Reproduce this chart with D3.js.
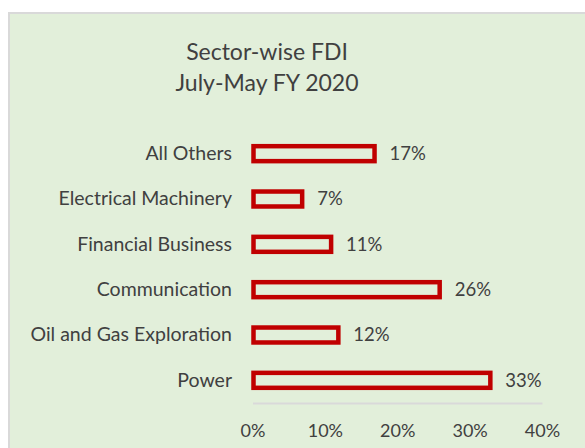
<!DOCTYPE html>
<meta charset="utf-8">
<script src="https://cdn.jsdelivr.net/npm/d3@7"></script>
<style>
body { margin: 0; background: #fff; }
text { fill: #404040; font-family: Lato, sans-serif; }
</style>
<body>
<script>

// chart data, top to bottom as drawn
var sectors = ["All Others", "Electrical Machinery", "Financial Business",
               "Communication", "Oil and Gas Exploration", "Power"];
var shares = [17, 7, 11, 26, 12, 33];
var ticks = [0, 10, 20, 30, 40];
var titleLines = ["Sector-wise FDI", "July-May FY 2020"];

var width = 585, height = 448;
var fontSize = "18px";

var svg = d3.select("body").append("svg")
    .attr("width", width)
    .attr("height", height);

// chart panel
svg.append("rect")
    .attr("x", 9).attr("y", 13)
    .attr("width", width).attr("height", height)
    .attr("fill", "#e2efda")
    .attr("stroke", "#d9d9d9")
    .attr("stroke-width", 2);

svg.append("text")
    .attr("x", 267)
    .attr("text-anchor", "middle")
    .style("font-size", "23px")
    .selectAll("tspan")
    .data(titleLines)
    .enter().append("tspan")
    .attr("x", 267)
    .attr("y", function(d, i) { return 60 + i * 31; })
    .text(function(d) { return d; });

var x = d3.scaleLinear()
    .domain([0, 40])
    .range([252.5, 542]);

var y = d3.scaleBand()
    .domain(sectors)
    .range([131, 403])
    .paddingInner(0.67)
    .paddingOuter(0.335);

var data = sectors.map(function(s, i) { return {name: s, value: shares[i]}; });

// x axis line + tick labels
var xAxis = svg.append("g")
    .attr("transform", "translate(0,403)")
    .call(d3.axisBottom(x).tickValues(ticks).tickSize(0).tickPadding(21)
        .tickFormat(function(d) { return d + "%"; }));
xAxis.select(".domain").attr("stroke", "#d9d9d9").attr("stroke-width", 2);
xAxis.selectAll("text")
    .attr("fill", "#404040")
    .style("font-family", "Lato, sans-serif")
    .style("font-size", fontSize);

// category labels
var yAxis = svg.append("g")
    .attr("transform", "translate(252,0)")
    .call(d3.axisLeft(y).tickSize(0).tickPadding(20));
yAxis.select(".domain").remove();
yAxis.selectAll("text")
    .attr("fill", "#404040")
    .style("font-family", "Lato, sans-serif")
    .style("font-size", "19.5px");

// outlined bars
svg.append("g")
    .selectAll("rect")
    .data(data)
    .enter().append("rect")
    .attr("x", x(0) + 1)
    .attr("y", function(d) { return y(d.name); })
    .attr("width", function(d) { return x(d.value) - x(0) - 2; })
    .attr("height", y.bandwidth())
    .attr("fill", "none")
    .attr("stroke", "#c00000")
    .attr("stroke-width", 4.5);

// value labels
svg.append("g")
    .selectAll("text")
    .data(data)
    .enter().append("text")
    .attr("x", function(d) { return x(d.value) + 14; })
    .attr("y", function(d) { return y(d.name) + y.bandwidth() / 2; })
    .attr("dy", "0.35em")
    .style("font-size", "18.5px")
    .text(function(d) { return d.value + "%"; });

</script>
</body>
